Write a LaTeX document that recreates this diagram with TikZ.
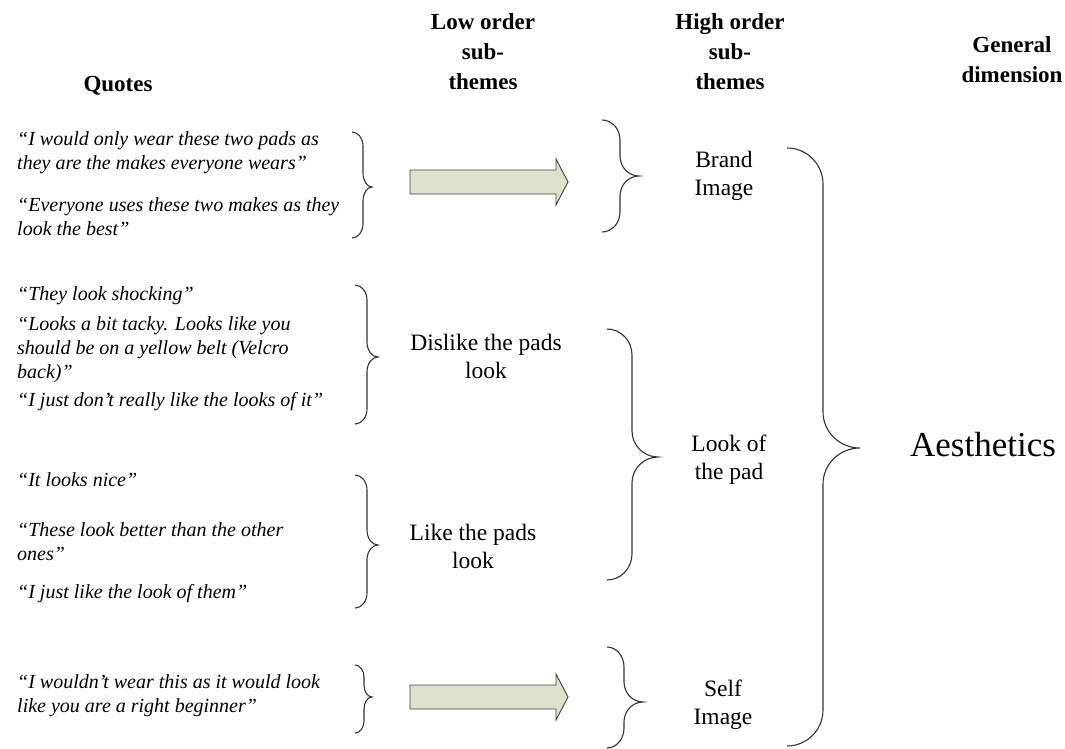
\documentclass[tikz,border=0pt]{standalone}
\usepackage{fontspec}
\setmainfont{Liberation Serif}
\begin{document}
\begin{tikzpicture}[x=1pt,y=-1pt,
  head/.style={font=\fontsize{23}{30}\selectfont\bfseries, align=center, inner sep=0},
  quote/.style={font=\fontsize{20}{24}\selectfont\itshape, align=left, anchor=west, inner sep=0},
  theme/.style={font=\fontsize{23.5}{28}\selectfont, align=center, inner sep=0},
  bracket/.style={draw=black!80, line width=1.1pt},
  blockarrow/.style={draw=black!75, line width=0.9pt, fill=arrowfill}]
\definecolor{arrowfill}{RGB}{221,225,204}
\useasboundingbox (0,0) rectangle (1065,749);

% right-pointing curly bracket:
% #1 end x, #2 spine x, #3 tip x, #4 top y, #5 tip y, #6 bottom y, #7 corner height
\newcommand\curlybr[7]{%
  \draw[bracket] (#1,#4)
    .. controls ({#1+0.552*(#2-#1)},#4) and (#2,{#4+0.448*#7}) .. (#2,{#4+#7})
    -- (#2,{#5-#7})
    .. controls (#2,{#5-0.448*#7}) and ({#3-0.552*(#3-#2)},#5) .. (#3,#5)
    .. controls ({#3-0.552*(#3-#2)},#5) and (#2,{#5+0.448*#7}) .. (#2,{#5+#7})
    -- (#2,{#6-#7})
    .. controls (#2,{#6-0.448*#7}) and ({#1+0.552*(#2-#1)},#6) .. (#1,#6);}

% block arrow: #1 left x, #2 tip x, #3 centre y
\newcommand\blockarr[3]{%
  \draw[blockarrow] (#1,{#3-12}) -- ({#2-12},{#3-12}) -- ({#2-12},{#3-23})
    -- (#2,#3) -- ({#2-12},{#3+23}) -- ({#2-12},{#3+12}) -- (#1,{#3+12}) -- cycle;}

% column headings
\node[head] (hquotes) at (118,86) {Quotes};
\node[head] (hlow) at (483,52) {Low order\\sub-\\themes};
\node[head] (hhigh) at (730,52) {High order\\sub-\\themes};
\node[head] (hgen) at (1012,60) {General\\dimension};

% quotes
\node[quote] (q1) at (17,152.5) {``I would only wear these two pads as\\they are the makes everyone wears''};
\node[quote] (q2) at (17,216.5) {``Everyone uses these two makes as they\\look the best''};
\node[quote] (q3) at (17,296) {``They look shocking''};
\node[quote] (q4) at (17,349.5) {``Looks a bit tacky. Looks like you\\should be on a yellow belt (Velcro\\back)''};
\node[quote] (q5) at (17,402) {``I just don’t really like the looks of it''};
\node[quote] (q6) at (17,480) {``It looks nice''};
\node[quote] (q7) at (17,541.5) {``These look better than the other\\ones''};
\node[quote] (q8) at (17,594) {``I just like the look of them''};
\node[quote] (q9) at (17,696) {``I wouldn’t wear this as it would look\\like you are a right beginner''};

% low order sub-themes
\node[theme] (dislike) at (486,356) {Dislike the pads\\look};
\node[theme] (like) at (473,546) {Like the pads\\look};

% high order sub-themes
\node[theme] (brand) at (724,176) {Brand\\Image};
\node[theme] (lookpad) at (729,460) {Look of\\the pad};
\node[theme] (self) at (723,705) {Self\\Image};

% general dimension
\node[font=\fontsize{35}{40}\selectfont, inner sep=0] (aes) at (983,445) {Aesthetics};

% brackets grouping quotes
\curlybr{352}{363}{372}{132}{187}{238}{14}
\curlybr{355}{367}{378}{285}{357}{424}{15}
\curlybr{355}{367}{378}{475}{545}{608}{15}
\curlybr{355}{364}{372}{665}{697}{733}{12}

% brackets grouping sub-themes
\curlybr{602}{620}{639}{120}{176}{232}{20}
\curlybr{607}{632}{658}{329}{457}{580}{26}
\curlybr{607}{624}{643}{647}{702}{748}{20}
\curlybr{787}{823}{860}{148}{448}{746}{36}

% block arrows
\blockarr{410}{568}{182}
\blockarr{410}{568}{697}
\end{tikzpicture}
\end{document}
